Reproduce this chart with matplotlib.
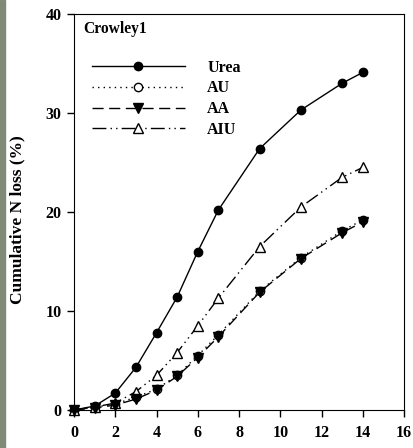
import numpy as np
import matplotlib.pyplot as plt
from matplotlib.patches import Rectangle

days = [0, 1, 2, 3, 4, 5, 6, 7, 9, 11, 13, 14]
urea = [0, 0.4, 1.7, 4.3, 7.8, 11.4, 16.0, 20.2, 26.4, 30.3, 33.0, 34.1]
au = [0, 0.3, 0.6, 1.3, 2.1, 3.5, 5.5, 7.6, 12.0, 15.4, 18.1, 19.2]
aa = [0, 0.2, 0.5, 1.1, 2.0, 3.4, 5.3, 7.4, 11.9, 15.3, 17.9, 19.0]
aiu = [0, 0.3, 0.7, 1.85, 3.5, 5.8, 8.5, 11.3, 16.5, 20.5, 23.5, 24.5]
labels = ['Urea', 'AU', 'AA', 'AIU']

plt.rcParams['font.family'] = 'Liberation Serif'
plt.rcParams['font.weight'] = 'bold'

fig = plt.figure(figsize=(4.13, 4.48), dpi=100)
# greenish strip at the left edge
fig.patches.append(Rectangle((0, 0), 5 / 413, 1, transform=fig.transFigure,
                             color='#808a76', zorder=0))
ax = fig.add_axes([74 / 413, 38 / 448, 330 / 413, 396 / 448])

ax.plot(days, urea, '-', color='k', lw=1, marker='o', ms=6, mfc='k', mec='k',
        label=labels[0], clip_on=False, zorder=3)
ax.plot(days, au, linestyle=(0, (1, 3)), color='k', lw=1, marker='o', ms=6,
        mfc='white', mec='k', label=labels[1], clip_on=False, zorder=3)
ax.plot(days, aa, linestyle=(0, (8, 4)), color='k', lw=1, marker='v', ms=6.5,
        mfc='k', mec='k', label=labels[2], clip_on=False, zorder=4)
ax.plot(days, aiu, linestyle=(0, (10, 3, 1, 3, 1, 3)), color='k', lw=1,
        marker='^', ms=6.5, mfc='white', mec='k', label=labels[3],
        clip_on=False, zorder=3)

ax.set_xlim(0, 16)
ax.set_ylim(0, 40)
ax.set_xticks(np.arange(0, 17, 2))
ax.set_yticks(np.arange(0, 41, 10))
ax.tick_params(direction='out', length=5, width=1, labelsize=11.5)
ax.tick_params(axis='x', pad=6)
ax.tick_params(axis='y', pad=4)
for lab in ax.get_xticklabels() + ax.get_yticklabels():
    lab.set_fontweight('bold')
ax.set_ylabel('Cumulative N loss (%)', fontsize=12.5, fontweight='bold')
ax.yaxis.set_label_coords(-0.148, 0.48)

ax.text(0.027, 0.982, 'Crowley1', transform=ax.transAxes, fontsize=11.2,
        fontweight='bold', va='top', ha='left')

leg = ax.legend(loc='upper left', bbox_to_anchor=(0.055, 0.885), frameon=False,
                borderaxespad=0, borderpad=0, handlelength=5.8,
                handletextpad=1.4, labelspacing=0.3,
                prop={'size': 11.5, 'weight': 'bold', 'family': 'Liberation Serif'})

fig.savefig('out.png', dpi=100)
